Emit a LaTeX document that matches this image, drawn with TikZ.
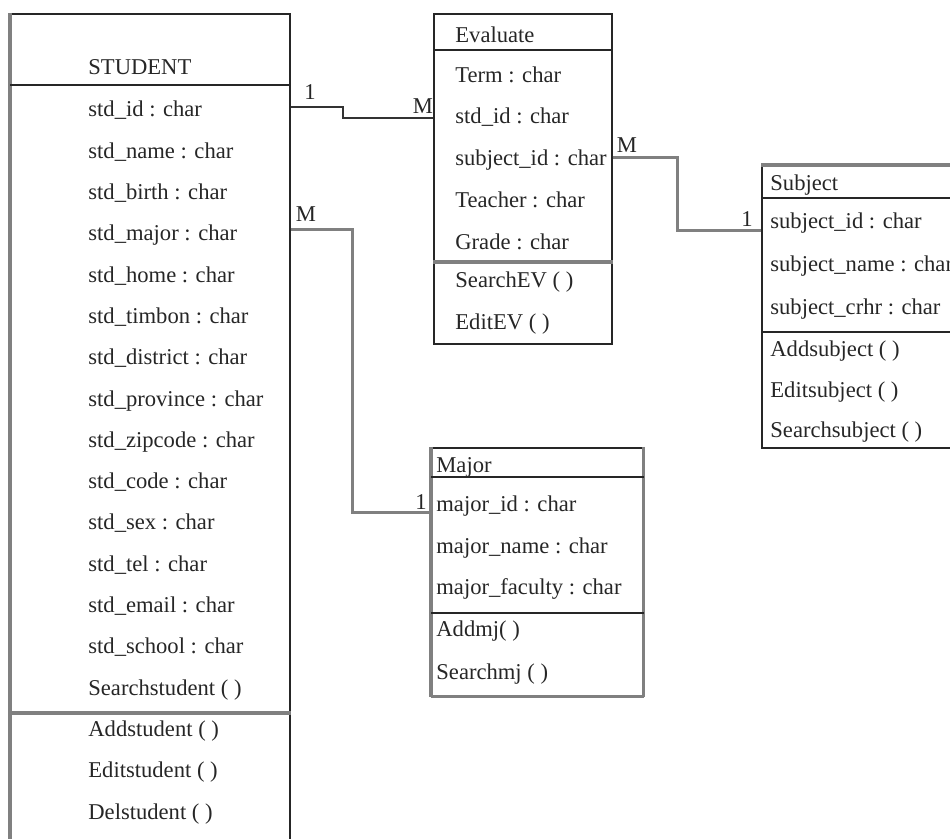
\documentclass[tikz,border=0pt]{standalone}
\usepackage{fontspec}
\setmainfont{Liberation Serif}
\begin{document}
\begin{tikzpicture}[x=0.5pt,y=-0.5pt,
  box/.style={draw=black!85,line width=0.8pt,inner sep=0,anchor=north west},
  row/.style={anchor=west,inner sep=0,text height=0.7em,text depth=0.2em,
    font=\fontsize{11.3}{13}\selectfont,text=black!85},
  rule/.style={draw=black!85,line width=0.8pt},
  heavy/.style={draw=black!50,line width=1.6pt},
  link/.style={draw=black!50,line width=1.5pt},
  darklink/.style={draw=black!80,line width=1pt},
  card/.style={inner sep=0,font=\fontsize{11.3}{13}\selectfont,text=black!85}]
\useasboundingbox (0,0) rectangle (950,839);
\clip (0,0) rectangle (950,839);

% ---------------- STUDENT ----------------
\node[box,minimum width=139.5pt,minimum height=430pt] (student) at (10,13) {};
\draw[heavy] (student.north west) -- (student.south west);
\draw[rule] (student.west |- 0,85) -- (student.east |- 0,85);
\draw[heavy] (student.west |- 0,713) -- (student.east |- 0,713);
\node[row] (stu-title) at (88,70) {STUDENT};
\foreach \t [count=\i from 0] in {std\_id : char, std\_name : char, std\_birth : char,
  std\_major : char, std\_home : char, std\_timbon : char, std\_district : char,
  std\_province : char, std\_zipcode : char, std\_code : char, std\_sex : char,
  std\_tel : char, std\_email : char, std\_school : char, Searchstudent ( ),
  Addstudent ( ), Editstudent ( ), Delstudent ( )}
  \node[row] (stu-\i) at (88,{112+41.3*\i}) {\t};

% ---------------- Evaluate ----------------
\node[box,minimum width=89pt,minimum height=165pt] (evaluate) at (433,13) {};
\draw[rule] (evaluate.west |- 0,50) -- (evaluate.east |- 0,50);
\draw[heavy] (evaluate.west |- 0,262) -- (evaluate.east |- 0,262);
\node[row] (ev-title) at (455,38) {Evaluate};
\foreach \y/\t [count=\i] in {78/Term : char, 119/std\_id : char,
  161/subject\_id : char, 203/Teacher : char, 245/Grade : char,
  283/SearchEV ( ), 325/EditEV ( )}
  \node[row] (ev-\i) at (455,\y) {\t};

% ---------------- Subject ----------------
\node[box,minimum width=110pt,minimum height=141pt] (subject) at (761,165) {};
\draw[heavy] (subject.north west) -- (subject.north east);
\draw[rule] (subject.west |- 0,198) -- (subject.east |- 0,198);
\draw[rule] (subject.west |- 0,332) -- (subject.east |- 0,332);
\node[row] (sub-title) at (770,186) {Subject};
\foreach \y/\t [count=\i] in {224/subject\_id : char, 267/subject\_name : char,
  310/subject\_crhr : char, 352/Addsubject ( ), 393/Editsubject ( ),
  433/Searchsubject ( )}
  \node[row] (sub-\i) at (770,\y) {\t};

% ---------------- Major ----------------
\node[box,minimum width=105.5pt,minimum height=124pt] (major) at (431,447) {};
\draw[heavy] (major.north west) -- (major.south west);
\draw[heavy] (major.north east) -- (major.south east);
\draw[heavy] (major.south west) -- (major.south east);
\draw[rule] (major.west |- 0,477) -- (major.east |- 0,477);
\draw[rule] (major.west |- 0,613) -- (major.east |- 0,613);
\node[row] (maj-title) at (436,468) {Major};
\foreach \y/\t [count=\i] in {507/major\_id : char, 549/major\_name : char,
  590/major\_faculty : char, 632/Addmj( ), 675/Searchmj ( )}
  \node[row] (maj-\i) at (436,\y) {\t};

% ---------------- Relationships ----------------
\draw[darklink] (student.east |- 0,107) -- (343,107) -- (343,118)
  -- (evaluate.west |- 0,118);
\draw[link] (student.east |- 0,230) -- (352,230) -- (352,513)
  -- (major.west |- 0,513);
\draw[link] (evaluate.east |- 0,158) -- (677,158) -- (677,231)
  -- (subject.west |- 0,231);

\node[card] (m-se-1) at (310,92) {1};
\node[card] (m-se-m) at (423,106) {M};
\node[card] (m-sm-m) at (306,214) {M};
\node[card] (m-sm-1) at (421,502) {1};
\node[card] (m-es-m) at (627,145) {M};
\node[card] (m-es-1) at (747,219) {1};
\end{tikzpicture}
\end{document}
